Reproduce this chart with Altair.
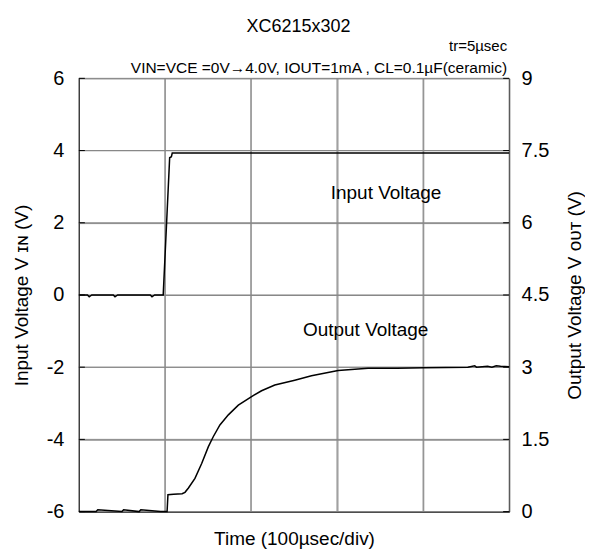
import altair as alt
import pandas as pd

# ---------------- data ----------------
# time in divisions (1 div = 100 µs)
t_in = [0.00, 0.10, 0.12, 0.15, 0.40, 0.42, 0.45, 0.83, 0.85, 0.88, 0.98, 1.055, 1.075, 1.085, 5.00]
v_in = [0.00, 0.00, -0.05, 0.00, 0.00, -0.05, 0.00, 0.00, -0.05, 0.00, 0.00, 3.80, 3.83, 3.93, 3.93]

t_out = [0.00, 0.20, 0.22, 0.50, 0.52, 0.70, 0.72, 0.95, 1.025, 1.035, 1.10, 1.20, 1.233, 1.273,
         1.349, 1.427, 1.505, 1.563, 1.639, 1.737, 1.853, 2.007, 2.123, 2.277, 2.509, 2.703,
         3.013, 3.361, 3.70, 4.014, 4.52, 4.60, 4.62, 4.75, 4.80, 4.85, 4.90, 5.00]
v_out = [0.00, 0.00, 0.04, 0.00, 0.04, 0.00, 0.04, 0.00, 0.00, 0.35, 0.36, 0.37, 0.40, 0.49,
         0.69, 1.00, 1.35, 1.56, 1.80, 2.01, 2.21, 2.39, 2.51, 2.63, 2.73, 2.82,
         2.93, 2.98, 2.98, 2.99, 3.00, 3.03, 3.00, 3.02, 3.00, 3.03, 3.02, 3.01]

left_ticks = [-6, -4, -2, 0, 2, 4, 6]
right_ticks = [0, 1.5, 3, 4.5, 6, 7.5, 9]
x_ticks = [0, 1, 2, 3, 4, 5]

ann_t = [3.57, 3.333]
ann_v = [2.82, -0.97]
ann_text = ["Input Voltage", "Output Voltage"]

title_text = "XC6215x302"
tr_text = "tr=5µsec"
cond_text = "VIN=VCE =0V→4.0V, IOUT=1mA ,  CL=0.1µF(ceramic)"

# ---------------- chart ----------------
W, H = 431, 434
FONT = "Liberation Sans"
GRID = "#888888"

df_in = pd.DataFrame({"t": t_in, "v": v_in})
df_out = pd.DataFrame({"t": t_out, "v": v_out})
df_lt = pd.DataFrame({"v": left_ticks})
df_xt = pd.DataFrame({"t": x_ticks})
df_ann = pd.DataFrame({"t": ann_t, "v": ann_v, "label": ann_text})

xaxis = alt.Axis(values=x_ticks, labels=False, tickSize=0, grid=True, gridColor=GRID,
                 gridWidth=1, gridOpacity=1,
                 domainColor="black", title="Time (100µsec/div)", titleFont=FONT,
                 titleFontSize=19, titleFontWeight="normal", titleColor="black",
                 titlePadding=17)
X = alt.X("t:Q", scale=alt.Scale(domain=[0, 5], nice=False, zero=False), axis=xaxis)

yl_axis = alt.Axis(values=left_ticks, grid=True, gridColor=GRID, gridWidth=1, gridOpacity=1,
                   tickSize=0,
                   labelPadding=15, labelFont=FONT, labelFontSize=20, labelColor="black",
                   labelExpr="'' + datum.value", domainColor="black",
                   title="Input Voltage V ɪɴ (V)", titleFont=FONT, titleFontSize=19,
                   titleFontWeight="normal", titleColor="black", titlePadding=15)
YL = alt.Y("v:Q", scale=alt.Scale(domain=[-6, 6], nice=False, zero=False), axis=yl_axis)

yr_axis = alt.Axis(orient="right", values=right_ticks, grid=False, tickSize=0,
                   labelPadding=12, labelFont=FONT, labelFontSize=20, labelColor="black",
                   labelExpr="'' + datum.value", domainColor="black",
                   title="Output Voltage V ᴏᴜᴛ (V)", titleFont=FONT, titleFontSize=19,
                   titleFontWeight="normal", titleColor="black", titlePadding=17,
                   titleAngle=270, titleBaseline="top")
YR = alt.Y("v:Q", scale=alt.Scale(domain=[0, 9], nice=False, zero=False), axis=yr_axis)

# grid lines through the scales
grid_h = alt.Chart(df_lt).mark_rule(color=GRID, strokeWidth=1, opacity=1).encode(
    y=YL, x=alt.value(0), x2=alt.value(W))
grid_v = alt.Chart(df_xt).mark_rule(color=GRID, strokeWidth=1, opacity=1).encode(
    x=X, y=alt.value(0), y2=alt.value(H))

line_in = alt.Chart(df_in).mark_line(color="black", strokeWidth=1.5).encode(x=X, y=YL)

ticks_l = alt.Chart(df_lt).mark_rule(color="black", strokeWidth=1).encode(
    y=YL, x=alt.value(0), x2=alt.value(6))
ticks_r = alt.Chart(df_lt).mark_rule(color="black", strokeWidth=1).encode(
    y=YL, x=alt.value(W - 6), x2=alt.value(W))

ann = alt.Chart(df_ann).mark_text(font=FONT, fontSize=19, color="black",
                                  align="center", baseline="middle").encode(
    x=X, y=YL, text="label:N")

top_df = pd.DataFrame({"k": [0]})
title_mark = alt.Chart(top_df).mark_text(font=FONT, fontSize=18, color="black",
                                         align="center", baseline="alphabetic").encode(
    x=alt.value(220), y=alt.value(-46), text=alt.value(title_text))
tr_mark = alt.Chart(top_df).mark_text(font=FONT, fontSize=15, color="black",
                                      align="right", baseline="alphabetic").encode(
    x=alt.value(W - 2), y=alt.value(-27), text=alt.value(tr_text))
cond_mark = alt.Chart(top_df).mark_text(font=FONT, fontSize=15.5, color="black",
                                        align="right", baseline="alphabetic").encode(
    x=alt.value(W - 2), y=alt.value(-5.5), text=alt.value(cond_text))

left_layer = alt.layer(grid_h, grid_v, line_in, ticks_l, ticks_r, ann,
                       title_mark, tr_mark, cond_mark)

line_out = alt.Chart(df_out).mark_line(color="black", strokeWidth=1.5).encode(x=X, y=YR)

chart = alt.layer(left_layer, line_out).resolve_scale(y="independent").properties(
    width=W, height=H,
    padding={"left": 4, "top": 10, "right": 0, "bottom": 0},
).configure_view(stroke="black", strokeWidth=1).configure(background="white")

chart.save("out.html", embed_options={"renderer": "svg", "actions": False})
